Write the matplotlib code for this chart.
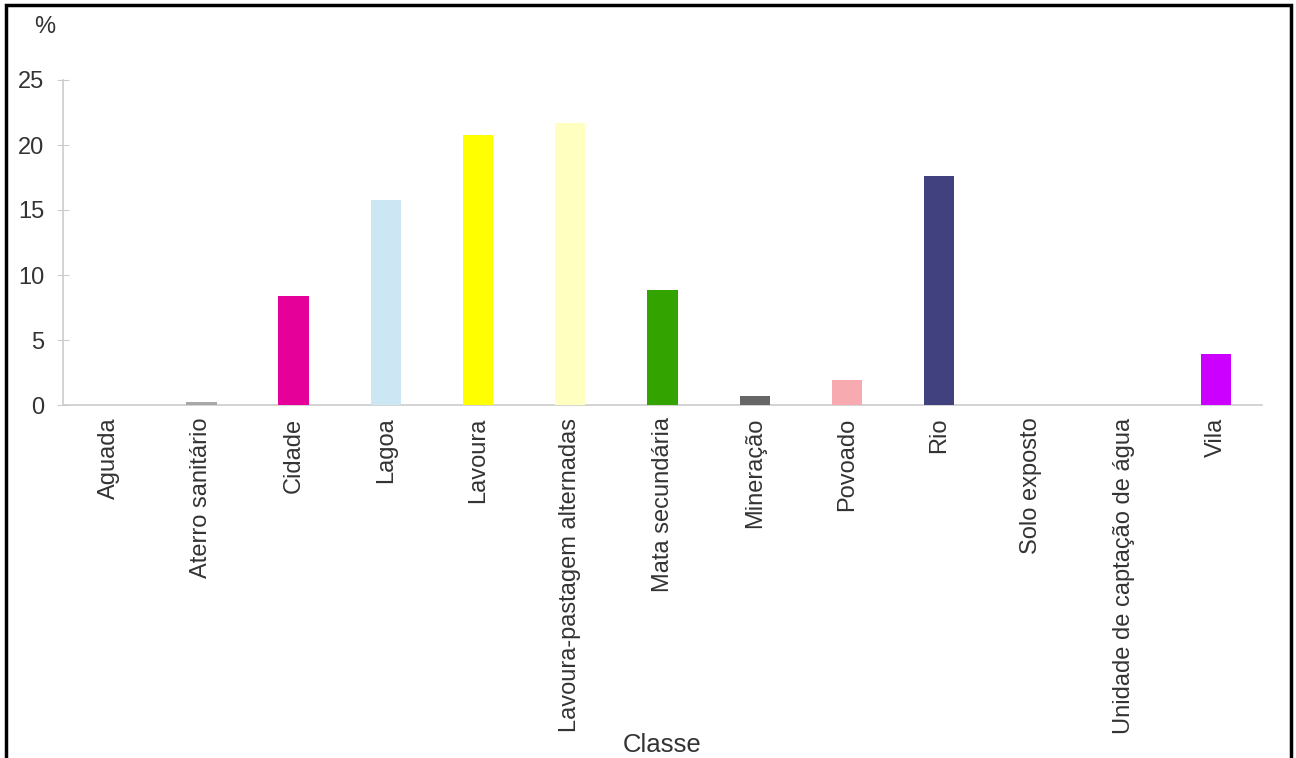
import matplotlib
matplotlib.use("Agg")
import matplotlib.pyplot as plt
from matplotlib.patches import Rectangle

categories = ["Aguada", "Aterro sanitário", "Cidade", "Lagoa", "Lavoura",
              "Lavoura-pastagem alternadas", "Mata secundária", "Mineração",
              "Povoado", "Rio", "Solo exposto", "Unidade de captação de água", "Vila"]
values = [0.0, 0.25, 8.4, 15.8, 20.8, 21.7, 8.85, 0.7, 1.9, 17.6, 0.0, 0.0, 3.9]
colors = ["#a0a0a0", "#a8a8a8", "#e6009a", "#cce6f4", "#ffff00", "#ffffc0",
          "#33a300", "#666666", "#f7abb0", "#41417f", "#a0a0a0", "#a0a0a0", "#cc00ff"]
yticks = [0, 5, 10, 15, 20, 25]

plt.rcParams['font.family'] = ['Liberation Sans', 'DejaVu Sans']
fig = plt.figure(figsize=(12.96, 7.58), dpi=100)
ax = fig.add_axes([63/1296, 1-405/758, (1262-63)/1296, (405-80)/758])

x = list(range(len(categories)))
ax.bar(x, values, width=0.33, color=colors, zorder=3)
ax.set_xlim(-0.5, len(categories)-0.5)
ax.set_ylim(0, 25)
ax.set_yticks(yticks)
ax.set_xticks(x)
ax.set_xticklabels(categories, rotation=90, fontsize=17, color="#333333", va="top", ha="center")
ax.tick_params(axis='x', length=0, pad=9)
ax.tick_params(axis='y', direction='inout', length=9, color="#cccccc", labelsize=17,
               labelcolor="#333333", pad=9)
for s in ['top', 'right']:
    ax.spines[s].set_visible(False)
for s in ['left', 'bottom']:
    ax.spines[s].set_color("#cccccc")
    ax.spines[s].set_linewidth(1.2)

fig.text(45/1296, 1-27/758, "%", fontsize=17, color="#333333", ha="center", va="center")
fig.text(662/1296, 1-745/758, "Classe", fontsize=18.5, color="#333333", ha="center", va="center")

fig.patches.append(Rectangle((6/1296, -0.05), (1291-6)/1296, 1.05-5/758,
                             transform=fig.transFigure, fill=False,
                             edgecolor="black", linewidth=2.5))
fig.savefig("out.png", dpi=100)
